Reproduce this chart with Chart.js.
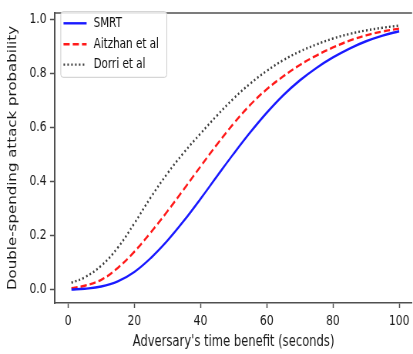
<!DOCTYPE html>
<html>
<head>
<meta charset="utf-8">
<script src="https://cdn.jsdelivr.net/npm/chart.js@4.4.0/dist/chart.umd.min.js"></script>
<style>
html,body{margin:0;padding:0;background:#fff;overflow:hidden}
/* the picture is squeezed sideways, so draw wide and squeeze */
#wrap{width:536px;height:354px;transform:scaleX(0.7705);transform-origin:0 0}
</style>
</head>
<body>
<div id="wrap"><canvas id="myChart"></canvas></div>
<script>
var seconds = [1,5,10,15,20,25,30,35,40,45,50,55,60,65,70,75,80,85,90,95,100]
var smrt    = [0,0.003,0.011,0.03,0.065,0.117,0.181,0.255,0.336,0.42,0.503,0.582,0.655,0.72,0.775,0.821,0.86,0.893,0.92,0.941,0.957]
var aitzhan = [0.005,0.014,0.036,0.08,0.14,0.212,0.29,0.372,0.456,0.538,0.615,0.684,0.742,0.79,0.832,0.867,0.897,0.922,0.942,0.956,0.967]
var dorri   = [0.025,0.045,0.088,0.155,0.245,0.342,0.43,0.508,0.578,0.645,0.708,0.763,0.81,0.85,0.882,0.908,0.93,0.947,0.96,0.97,0.978]
var xTicks = [0,20,40,60,80,100]
var yTicks = [0,0.2,0.4,0.6,0.8,1.0]

function pts(ys){
	var out = []
	for(var i=0;i<seconds.length;i++){
		out.push({x:seconds[i], y:ys[i]})
	}
	return out
}

var font = "'DejaVu Sans', sans-serif"
var frame = '#505050'

// legend box in the upper left corner of the plot
var boxLegend = {
	id:'boxLegend',
	afterDraw:function(chart){
		var ctx = chart.ctx
		var a = chart.chartArea
		ctx.save()
		// top frame line
		ctx.strokeStyle = frame
		ctx.lineWidth = 1.5
		ctx.beginPath()
		ctx.moveTo(a.left, a.top)
		ctx.lineTo(a.right, a.top)
		ctx.stroke()

		var x0 = a.left + 7.5, y0 = 11.7, w = 137.6, h = 65.6
		ctx.fillStyle = 'rgba(255,255,255,0.85)'
		ctx.strokeStyle = '#cccccc'
		ctx.lineWidth = 1
		ctx.beginPath()
		ctx.roundRect(x0, y0, w, h, 3)
		ctx.fill()
		ctx.stroke()

		var rows = [23.3, 44.3, 64.6]
		chart.data.datasets.forEach(function(ds, i){
			var y = rows[i]
			ctx.strokeStyle = ds.borderColor
			ctx.lineWidth = ds.borderWidth
			ctx.setLineDash(ds.borderDash || [])
			ctx.beginPath()
			ctx.moveTo(x0 + 3.5, y)
			ctx.lineTo(x0 + 33.5, y)
			ctx.stroke()
			ctx.setLineDash([])
			ctx.fillStyle = '#111'
			ctx.font = "13.5px " + font
			ctx.textBaseline = 'middle'
			ctx.fillText(ds.label, x0 + 42.5, y)
		})
		ctx.restore()
	}
}

var mychart = document.getElementById("myChart").getContext('2d')

var chart = new Chart(mychart,{
	type:'line',
	data:{
		datasets:[
			{
				label: "SMRT",
				data: pts(smrt),
				borderColor: "#1a1aff",
				borderWidth: 2.4,
				pointRadius: 0,
				tension: 0.4
			},
			{
				label: "Aitzhan et al",
				data: pts(aitzhan),
				borderColor: "#ff1a1a",
				borderWidth: 2.4,
				borderDash: [8,4],
				pointRadius: 0,
				tension: 0.4
			},
			{
				label: "Dorri et al",
				data: pts(dorri),
				borderColor: "#3c3c3c",
				borderWidth: 2.4,
				borderDash: [2,3],
				pointRadius: 0,
				tension: 0.4
			}
		]
	},
	options:{
		responsive: true,
		maintainAspectRatio: false,
		animation: false,
		layout:{padding:{top:5, left:0, right:0, bottom:0}},
		plugins:{legend:{display:false}, tooltip:{enabled:false}},
		scales:{
			x:{
				type:'linear',
				min:-3.95,
				max:103.9,
				afterBuildTicks:function(axis){
					axis.ticks = xTicks.map(function(v){ return {value:v} })
				},
				afterFit:function(axis){ axis.height = 51 },
				grid:{drawOnChartArea:false, tickLength:5, tickColor:frame, tickWidth:1.5},
				border:{color:frame, width:1.5},
				ticks:{
					padding:4.5,
					color:'#1a1a1a',
					font:{family:font, size:14},
					maxRotation:0,
					callback:function(v){ return v }
				},
				title:{
					display:true,
					text:"Adversary's time benefit (seconds)",
					color:'#1a1a1a',
					font:{family:font, size:15},
					padding:{top:0, bottom:2.5}
				}
			},
			y:{
				min:-0.05,
				max:1.025,
				afterBuildTicks:function(axis){
					axis.ticks = yTicks.map(function(v){ return {value:v} })
				},
				afterFit:function(axis){ axis.width = 71.4 },
				grid:{drawOnChartArea:false, tickLength:6.5, tickColor:frame, tickWidth:1.5},
				border:{color:frame, width:2},
				ticks:{
					padding:4.5,
					color:'#1a1a1a',
					font:{family:font, size:14},
					callback:function(v){ return v.toFixed(1) }
				},
				title:{
					display:true,
					text:"Double-spending attack probability",
					color:'#1a1a1a',
					font:{family:font, size:15},
					padding:{top:8, bottom:0}
				}
			}
		}
	},
	plugins:[boxLegend]
})
</script>
</body>
</html>
